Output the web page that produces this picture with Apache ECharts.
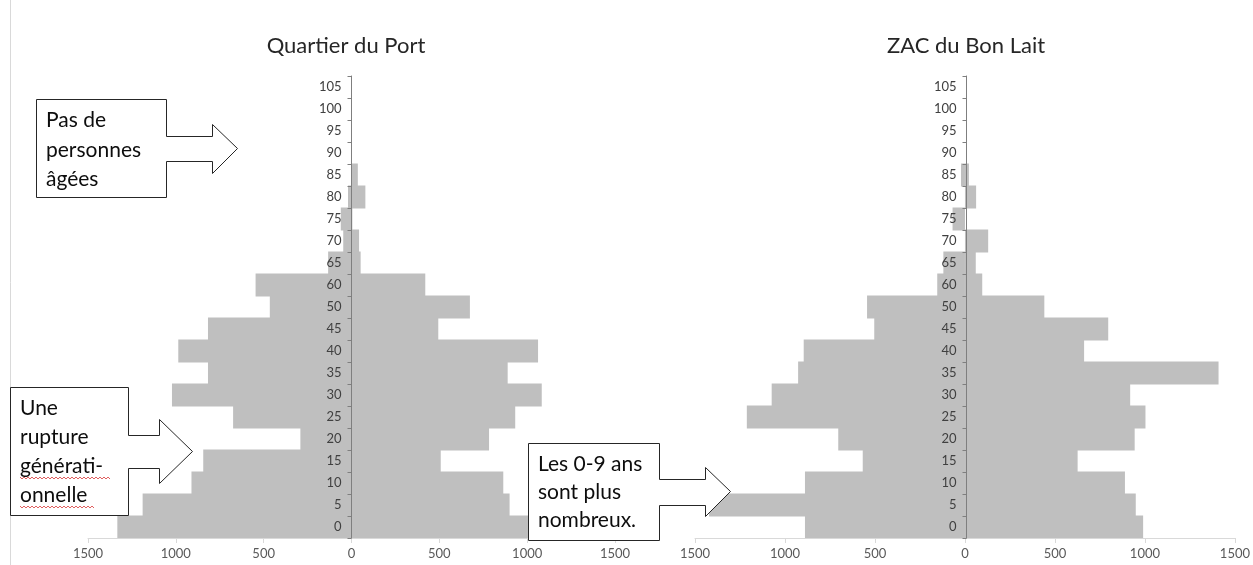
<!DOCTYPE html>
<html>
<head>
<meta charset="utf-8">
<script src="https://cdn.jsdelivr.net/npm/echarts@6/dist/echarts.min.js"></script>
<style>
html,body{margin:0;padding:0;background:#fff;}
#chart{width:1253px;height:565px;}
</style>
</head>
<body>
<div id="chart"></div>
<script>
// Age groups (the source has no "55" group)
var ages = ['0','5','10','15','20','25','30','35','40','45','50','60','65','70','75','80','85','90','95','100','105'];

// Quartier du Port
var portLeft  = [1333, 1189, 911, 844, 291, 674, 1022, 817, 986, 817, 465, 546, 133, 47, 61, 20, 0, 0, 0, 0, 0];
var portRight = [1040, 900, 864, 508, 783, 932, 1083, 889, 1062, 494, 674, 420, 52, 43, 5, 79, 36, 0, 0, 0, 0];

// ZAC du Bon Lait
var laitLeft  = [889, 1422, 889, 568, 704, 1212, 1074, 927, 896, 504, 544, 154, 120, 0, 69, 0, 22, 0, 0, 0, 0];
var laitRight = [990, 949, 889, 626, 943, 1003, 918, 1409, 662, 796, 441, 96, 60, 129, 0, 62, 22, 0, 0, 0, 0];

var titles = ['Quartier du Port', 'ZAC du Bon Lait'];
var xMin = -1500, xMax = 1500, xStep = 500;

var FONT = 'Lato, "Open Sans", sans-serif';
var BAR = '#BFBFBF';

var grids = [
  { left: 88, right: 638, top: 76, bottom: 27 },
  { left: 695, right: 15, top: 76, bottom: 27 }
];
var W = 1253;

function neg(a){ return a.map(function(v){ return v === 0 ? null : -v; }); }
function pos(a){ return a.map(function(v){ return v === 0 ? null : v; }); }

function xAxis(gi){
  return {
    type: 'value', gridIndex: gi, min: xMin, max: xMax, interval: xStep,
    axisLine: { show: true, lineStyle: { color: '#D9D9D9', width: 1 } },
    axisTick: { show: true, length: 5, lineStyle: { color: '#D9D9D9' } },
    splitLine: { show: false },
    axisLabel: { color: '#595959', fontSize: 13, fontFamily: FONT, margin: 9,
      formatter: function(v){ return String(Math.abs(v)); } }
  };
}
function yAxis(gi){
  var g = grids[gi];
  var width = W - g.left - g.right;
  // place the category axis on the zero of the value axis (middle of the grid)
  var off = -width * (0 - xMin) / (xMax - xMin);
  return {
    type: 'category', gridIndex: gi, data: ages, z: 5, position: 'left', offset: off,
    axisLine: { show: true, onZero: false, lineStyle: { color: '#7F7F7F', width: 1 } },
    axisTick: { show: true, length: 4, lineStyle: { color: '#7F7F7F' } },
    axisLabel: { color: '#404040', fontSize: 13, fontFamily: FONT, margin: 10, interval: 0 },
    splitLine: { show: false }
  };
}
function bar(gi, data, name){
  return {
    type: 'bar', name: name, xAxisIndex: gi, yAxisIndex: gi, stack: 'g' + gi,
    data: data, barWidth: 23, barGap: '-100%',
    itemStyle: { color: BAR }, silent: true, animation: false
  };
}

// callout shapes (annotations)
function callout(L, R, T, B, sTop, sBot, sEnd, hTop, hBot, tipX, tipY){
  var p = function(x, y){ return [x + 0.5, y + 0.5]; };
  return {
    type: 'polygon', z: 100,
    shape: { points: [p(L,T), p(R,T), p(R,sTop), p(sEnd,sTop), p(sEnd,hTop), p(tipX,tipY),
      p(sEnd,hBot), p(sEnd,sBot), p(R,sBot), p(R,B), p(L,B)] },
    style: { fill: '#FFFFFF', stroke: '#262626', lineWidth: 1 }
  };
}
function txt(s, x, y){
  return { type: 'text', z: 101, x: x, y: y,
    style: { text: s, fill: '#0D0D0D', font: '21px ' + FONT, textVerticalAlign: 'middle', textAlign: 'left' } };
}
function squiggle(x0, x1, y){
  var pts = [], k = 0;
  for (var x = x0; x <= x1; x += 2) { pts.push([x, y + (k % 2 ? 1 : -1)]); k++; }
  return { type: 'polyline', z: 102, shape: { points: pts },
    style: { stroke: '#E06060', lineWidth: 1, fill: null } };
}

var chart = echarts.init(document.getElementById('chart'), null, { renderer: 'canvas' });
chart.setOption({
  backgroundColor: '#FFFFFF',
  animation: false,
  title: [
    { text: titles[0], left: 346, top: 35, textAlign: 'center', padding: 0,
      textStyle: { fontSize: 22, fontWeight: 'normal', color: '#262626', fontFamily: FONT } },
    { text: titles[1], left: 966, top: 35, textAlign: 'center', padding: 0,
      textStyle: { fontSize: 22, fontWeight: 'normal', color: '#262626', fontFamily: FONT } }
  ],
  grid: grids,
  xAxis: [xAxis(0), xAxis(1)],
  yAxis: [yAxis(0), yAxis(1)],
  series: [
    bar(0, neg(portLeft), 'left'),
    bar(0, pos(portRight), 'right'),
    bar(1, neg(laitLeft), 'left'),
    bar(1, pos(laitRight), 'right')
  ],
  graphic: [
    { type: 'line', z: 1, shape: { x1: 10.5, y1: 0, x2: 10.5, y2: 565 }, style: { stroke: '#D9D9D9', lineWidth: 1 } },
    callout(36, 166, 99, 197, 136, 161, 212, 124, 173, 237, 148),
    txt('Pas de', 46, 120), txt('personnes', 46, 150), txt('âgées', 46, 179),
    callout(10, 128, 387, 515, 435, 468, 159, 419, 483, 192, 451),
    txt('Une', 20, 408), txt('rupture', 20, 437), txt('générati-', 20, 466), txt('onnelle', 20, 495),
    squiggle(20, 110, 478), squiggle(20, 95, 507),
    callout(528, 659, 443, 540, 479, 505, 705, 467, 516, 730, 491),
    txt('Les 0-9 ans', 538, 464), txt('sont plus', 538, 492), txt('nombreux.', 538, 520)
  ]
});
</script>
</body>
</html>
